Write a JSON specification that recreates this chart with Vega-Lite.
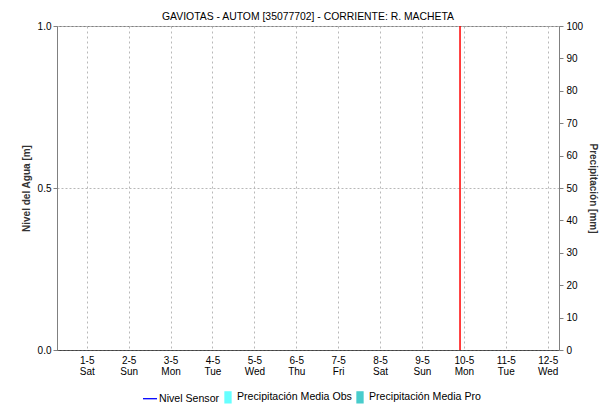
{
  "$schema": "https://vega.github.io/schema/vega-lite/v6.json",
  "autosize": "none",
  "width": 502,
  "height": 324,
  "padding": {"left": 57, "top": 26, "right": 54, "bottom": 56},
  "background": "white",
  "title": {
    "text": "GAVIOTAS - AUTOM [35077702] - CORRIENTE: R. MACHETA",
    "font": "Liberation Sans",
    "fontSize": 10.4,
    "fontWeight": "normal",
    "color": "#000000",
    "anchor": "middle",
    "frame": "group",
    "baseline": "alphabetic",
    "offset": 7,
    "dy": 16
  },
  "config": {
    "view": {"stroke": "#808080", "strokeWidth": 1},
    "font": "Liberation Sans",
    "axis": {
      "labelFont": "Liberation Sans",
      "labelFontSize": 10,
      "labelColor": "#000000",
      "titleFont": "Liberation Sans",
      "titleFontSize": 10,
      "titleFontWeight": "bold",
      "titleColor": "#333333",
      "domainColor": "#808080",
      "tickColor": "#808080"
    }
  },
  "datasets": {
    "series": [
      {"serie": "Nivel Sensor", "dia": null, "nivel": null, "precip": null},
      {"serie": "Precipitación Media Obs", "dia": null, "nivel": null, "precip": null},
      {"serie": "Precipitación Media Pro", "dia": null, "nivel": null, "precip": null}
    ],
    "marcador": [{"dia": 9.908}]
  },
  "layer": [
    {
      "data": {"name": "series"},
      "mark": {"type": "line", "color": "#0000ff"},
      "encoding": {
        "x": {
          "field": "dia",
          "type": "quantitative",
          "scale": {"domain": [0.29, 12.27], "nice": false, "zero": false},
          "axis": {
            "title": null,
            "values": [1, 2, 3, 4, 5, 6, 7, 8, 9, 10, 11, 12],
            "labelExpr": "[datum.value + '-5', ['Sat','Sun','Mon','Tue','Wed','Thu','Fri'][(datum.value - 1) % 7]]",
            "labelLineHeight": 11.5,
            "labelBaseline": "top",
            "labelPadding": 5,
            "ticks": false,
            "tickSize": 0,
            "domainColor": "#000000",
            "domainDash": [1, 1],
            "grid": true,
            "gridColor": "#b8b8b8",
            "gridDash": [2, 3],
            "labelFlush": false,
            "labelOverlap": false
          }
        },
        "y": {
          "field": "nivel",
          "type": "quantitative",
          "scale": {"domain": [0, 1], "nice": false, "zero": false},
          "axis": {
            "title": "Nivel del Agua [m]",
            "orient": "left",
            "values": [0, 0.5, 1],
            "format": ".1f",
            "tickSize": 4,
            "labelPadding": 2,
            "titlePadding": 6,
            "grid": true,
            "gridColor": "#b8b8b8",
            "gridDash": [2, 2]
          }
        }
      }
    },
    {
      "data": {"name": "series"},
      "mark": {"type": "point", "filled": true},
      "encoding": {
        "x": {"field": "dia", "type": "quantitative"},
        "y": {
          "field": "precip",
          "type": "quantitative",
          "scale": {"domain": [0, 100], "nice": false, "zero": false},
          "axis": {
            "title": "Precipitación [mm]",
            "orient": "right",
            "values": [0, 10, 20, 30, 40, 50, 60, 70, 80, 90, 100],
            "tickSize": 4,
            "labelPadding": 3,
            "titlePadding": 5,
            "grid": false
          }
        },
        "color": {
          "field": "serie",
          "type": "nominal",
          "scale": {
            "domain": ["Nivel Sensor", "Precipitación Media Obs", "Precipitación Media Pro"],
            "range": ["#0000ff", "#66ffff", "#48cccc"]
          },
          "legend": {
            "title": null,
            "orient": "none",
            "legendX": 85,
            "legendY": 363,
            "direction": "horizontal",
            "padding": 0,
            "columnPadding": 0,
            "labelFont": "Liberation Sans",
            "labelFontSize": 10.6,
            "labelColor": "#000000",
            "labelOffset": 1,
            "symbolSize": 196,
            "symbolStrokeWidth": 1.3,
            "symbolOpacity": 1,
            "encode": {
              "symbols": {
                "update": {
                  "stroke": {"scale": "color", "field": "value"},
                  "fill": {"scale": "color", "field": "value"}
                }
              }
            }
          }
        },
        "shape": {
          "field": "serie",
          "type": "nominal",
          "scale": {
            "domain": ["Nivel Sensor", "Precipitación Media Obs", "Precipitación Media Pro"],
            "range": ["M-1,0H1", "M-0.43,-0.79H0.43V0.79H-0.43Z", "M-0.43,-0.79H0.43V0.79H-0.43Z"]
          },
          "legend": null
        }
      }
    },
    {
      "data": {"name": "marcador"},
      "mark": {"type": "rule", "color": "#ff0000", "strokeWidth": 1.5},
      "encoding": {
        "x": {"field": "dia", "type": "quantitative"}
      }
    }
  ],
  "resolve": {"scale": {"y": "independent"}}
}
